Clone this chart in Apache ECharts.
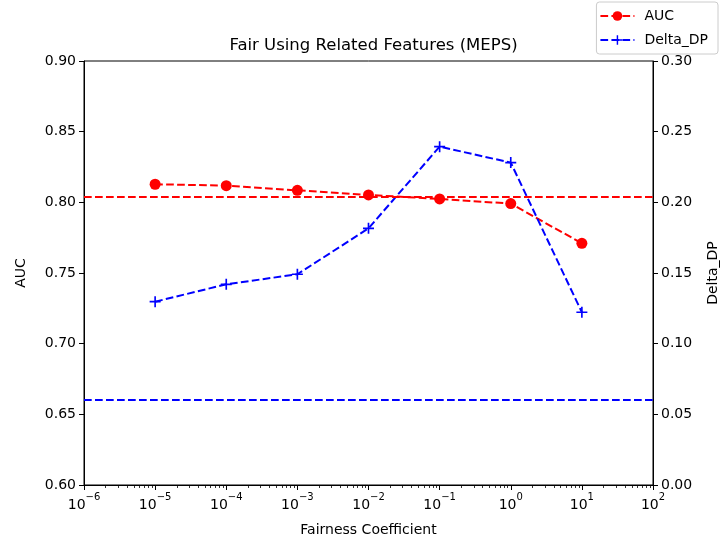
<!DOCTYPE html>
<html>
<head>
<meta charset="utf-8">
<script src="https://cdn.jsdelivr.net/npm/echarts@6/dist/echarts.min.js"></script>
<style>
html,body{margin:0;padding:0;background:#fff;}
#chart{width:720px;height:546px;}
</style>
</head>
<body>
<div id="chart"></div>
<script>
// ---- data ----
const coefficients = [1e-5, 1e-4, 1e-3, 1e-2, 1e-1, 1e0, 1e1];
const aucValues = [0.8128, 0.8118, 0.8085, 0.8052, 0.8024, 0.7991, 0.7710];
const deltaDpValues = [0.1297, 0.1420, 0.1491, 0.1816, 0.2394, 0.2281, 0.1222];
const aucBaseline = 0.8038;
const deltaDpBaseline = 0.0601;
const aucTicks = [0.60, 0.65, 0.70, 0.75, 0.80, 0.85, 0.90];
const deltaTicks = [0.00, 0.05, 0.10, 0.15, 0.20, 0.25, 0.30];
const xDecadeRange = [1e-6, 1e2];

const FONT = 'DejaVu Sans';
const RED = '#ff0000';
const BLUE = '#0000ff';
const DASH = [7.7, 3.3];

const chart = echarts.init(document.getElementById('chart'), null, {renderer: 'canvas'});

function supLabel(v) {
  const e = Math.round(Math.log10(v));
  const s = e < 0 ? '\u2212' + Math.abs(e) : String(e);
  return '{b|10}{s|' + s + '}';
}

const plusPath = 'path://M-0.9,-6H0.9V-0.9H6V0.9H0.9V6H-0.9V0.9H-6V-0.9H-0.9Z';

const option = {
  animation: false,
  backgroundColor: '#fff',
  textStyle: {fontFamily: FONT, color: '#000'},
  title: {
    text: 'Fair Using Related Features (MEPS)',
    left: 368.5, top: 32, textAlign: 'center',
    textStyle: {fontFamily: FONT, fontSize: 16.5, fontWeight: 'normal', color: '#000'}
  },
  legend: {
    orient: 'vertical', right: 2, top: 2,
    padding: [7, 10, 7, 3],
    itemGap: 10,
    itemWidth: 34, itemHeight: 12,
    borderColor: '#cccccc', borderWidth: 1, borderRadius: 3,
    backgroundColor: '#fff',
    textStyle: {fontFamily: FONT, fontSize: 14, color: '#000', padding: [0, 0, 0, 5]},
    data: ['AUC', 'Delta_DP']
  },
  grid: {
    left: 84, right: 67, top: 61, bottom: 61,
    outerBoundsMode: 'none',
    show: true, borderColor: '#000', borderWidth: 1, backgroundColor: 'transparent'
  },
  xAxis: {
    type: 'log', logBase: 10,
    min: xDecadeRange[0], max: xDecadeRange[1],
    name: 'Fairness Coefficient', nameLocation: 'middle', nameGap: 38,
    nameTextStyle: {fontFamily: FONT, fontSize: 14, color: '#000'},
    axisLine: {show: true, lineStyle: {color: '#000', width: 1}},
    axisTick: {show: true, length: 5, lineStyle: {color: '#000'}},
    splitLine: {show: false},
    axisLabel: {
      margin: 7,
      formatter: supLabel,
      rich: {
        b: {fontFamily: FONT, fontSize: 14, color: '#000', verticalAlign: 'bottom', lineHeight: 20},
        s: {fontFamily: FONT, fontSize: 10, color: '#000', verticalAlign: 'top', lineHeight: 20, padding: [0, 0, 6, 0]}
      }
    }
  },
  yAxis: [
    {
      type: 'value', min: aucTicks[0], max: aucTicks[aucTicks.length - 1], interval: 0.05,
      name: 'AUC', nameLocation: 'middle', nameGap: 56,
      nameTextStyle: {fontFamily: FONT, fontSize: 14, color: '#000'},
      axisLine: {show: true, lineStyle: {color: '#000', width: 1}},
      axisTick: {show: true, length: 5, lineStyle: {color: '#000'}},
      splitLine: {show: false},
      axisLabel: {fontFamily: FONT, fontSize: 14, color: '#000', margin: 8,
        formatter: v => v.toFixed(2)}
    },
    {
      type: 'value', min: deltaTicks[0], max: deltaTicks[deltaTicks.length - 1], interval: 0.05,
      position: 'right',
      name: 'Delta_DP', nameLocation: 'middle', nameGap: 53,
      nameTextStyle: {fontFamily: FONT, fontSize: 14, color: '#000'},
      axisLine: {show: true, lineStyle: {color: '#000', width: 1}},
      axisTick: {show: true, length: 5, lineStyle: {color: '#000'}},
      splitLine: {show: false},
      axisLabel: {fontFamily: FONT, fontSize: 14, color: '#000', margin: 8,
        formatter: v => v.toFixed(2)}
    }
  ],
  series: [
    {
      name: 'AUC', type: 'line', yAxisIndex: 0,
      data: coefficients.map((c, i) => [c, aucValues[i]]),
      symbol: 'circle', symbolSize: 11,
      itemStyle: {color: RED},
      lineStyle: {color: RED, width: 2, type: DASH},
      z: 3,
      markLine: {
        silent: true, symbol: 'none', label: {show: false}, precision: 6,
        lineStyle: {color: RED, width: 2, type: DASH},
        data: [{yAxis: aucBaseline}]
      }
    },
    {
      name: 'Delta_DP', type: 'line', yAxisIndex: 1,
      data: coefficients.map((c, i) => [c, deltaDpValues[i]]),
      symbol: plusPath, symbolSize: 11, symbolKeepAspect: true,
      itemStyle: {color: BLUE},
      lineStyle: {color: BLUE, width: 2, type: DASH},
      z: 4,
      markLine: {
        silent: true, symbol: 'none', label: {show: false}, precision: 6,
        lineStyle: {color: BLUE, width: 2, type: DASH},
        data: [{yAxis: deltaDpBaseline}]
      }
    },
    {
      // log-scale minor ticks (2..9 in each decade) on the bottom axis
      type: 'custom', yAxisIndex: 0, silent: true,
      data: [[xDecadeRange[0], aucTicks[0]]],
      clip: false, z: 5,
      renderItem: function (params, api) {
        const children = [];
        const lo = Math.round(Math.log10(xDecadeRange[0]));
        const hi = Math.round(Math.log10(xDecadeRange[1]));
        const yBase = api.coord([xDecadeRange[0], aucTicks[0]])[1];
        for (let d = lo; d < hi; d++) {
          for (let m = 2; m <= 9; m++) {
            const x = api.coord([m * Math.pow(10, d), aucTicks[0]])[0];
            children.push({
              type: 'line',
              shape: {x1: Math.round(x) + 0.5, y1: yBase, x2: Math.round(x) + 0.5, y2: yBase + 3},
              style: {stroke: '#000', lineWidth: 0.8}
            });
          }
        }
        return {type: 'group', children: children};
      }
    }
  ]
};
chart.setOption(option);
</script>
</body>
</html>
